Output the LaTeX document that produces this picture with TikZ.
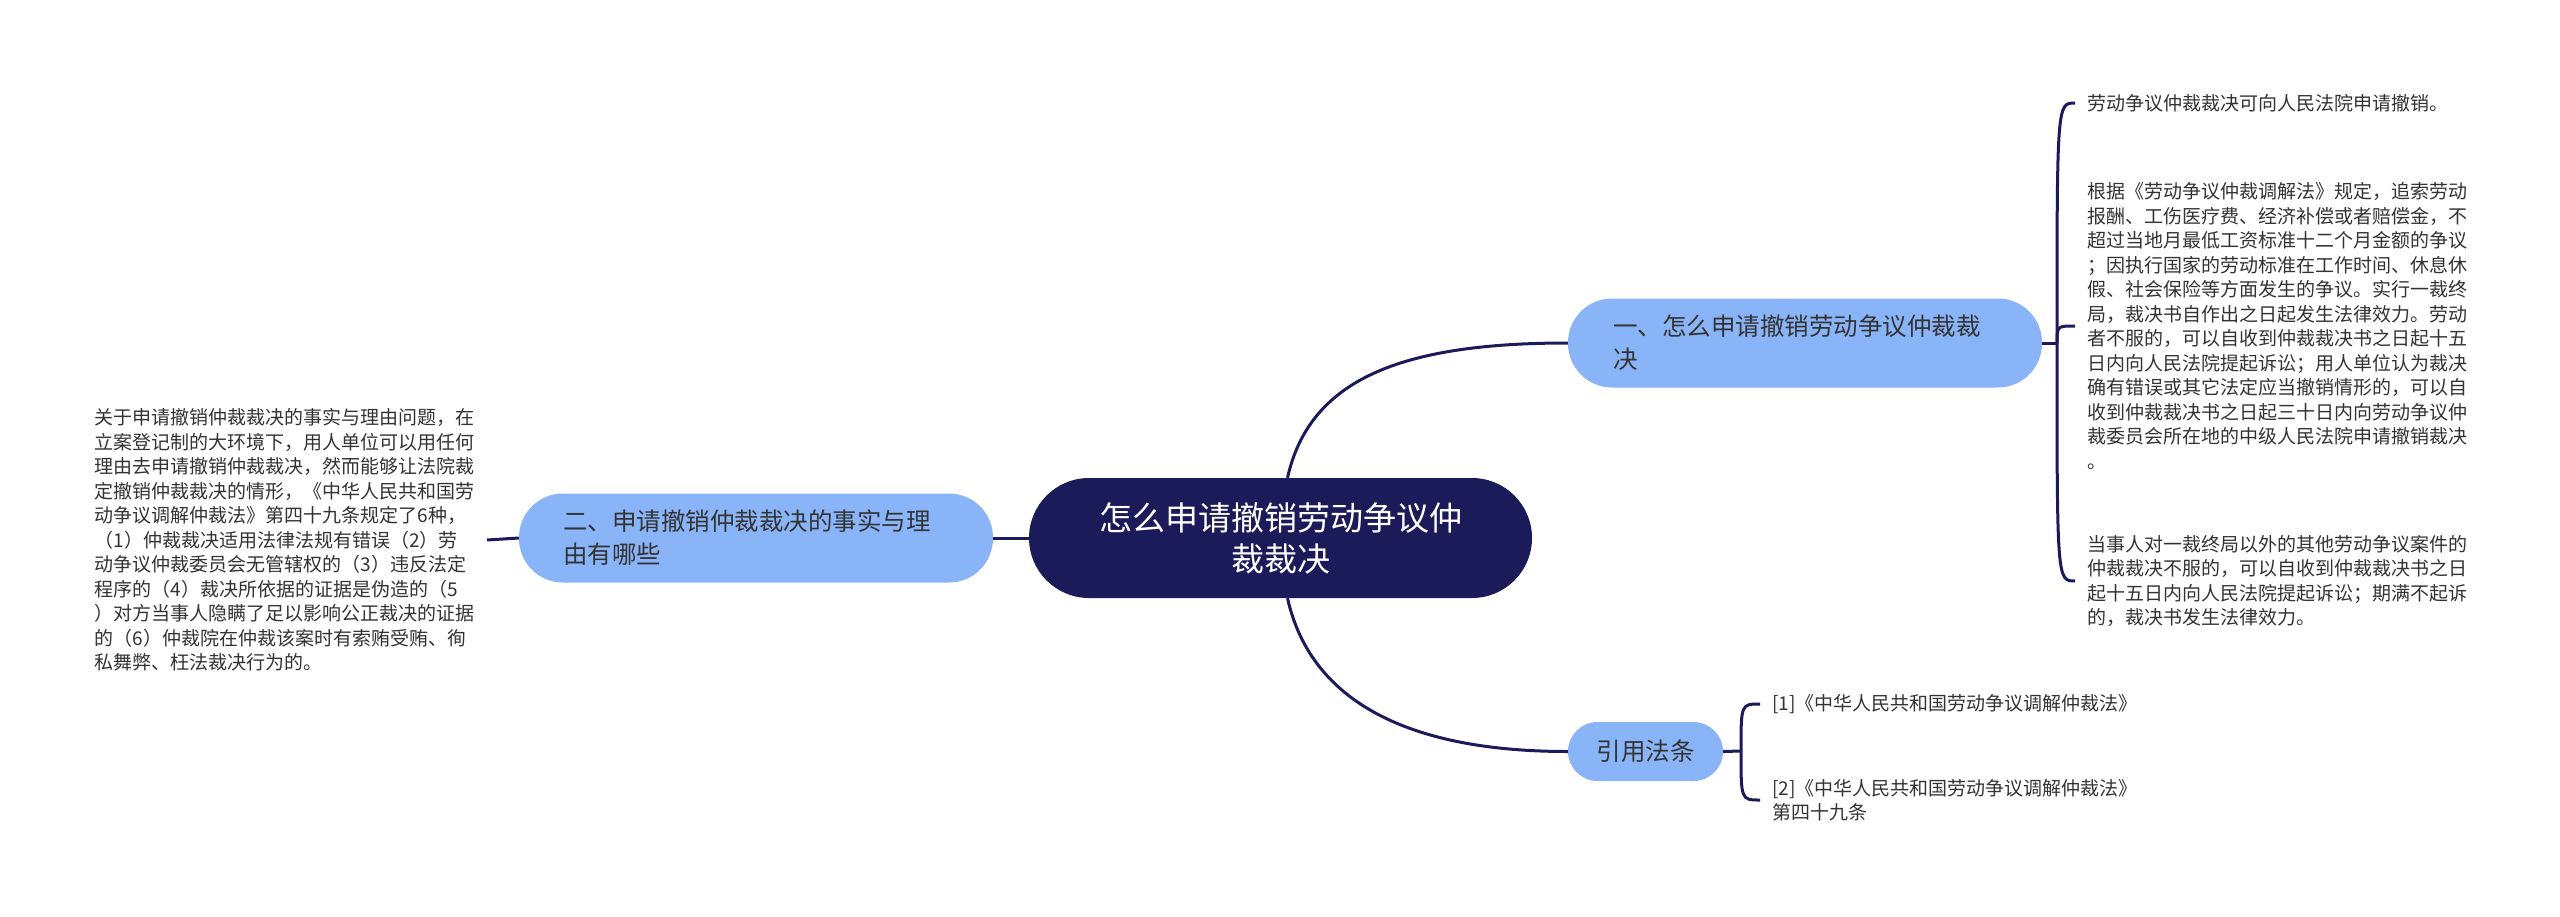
\documentclass[tikz,border=0pt]{standalone}
\usepackage{fontspec}
\setmainfont{Noto Sans CJK SC}
\definecolor{navy}{HTML}{1C1B5A}
\definecolor{blueb}{HTML}{8AB4F8}
\definecolor{txt}{HTML}{333333}
\tikzset{
  conn/.style={draw=navy, line width=3pt},
  rootbox/.style={fill=navy, text=white, rounded corners=60pt, minimum width=503pt, minimum height=120pt, align=center, font=\fontsize{33}{41}\selectfont, inner sep=0pt},
  topic/.style={fill=blueb, text=txt, rounded corners=44pt, minimum height=89pt, font=\fontsize{24.5}{33}\selectfont, inner ysep=0pt},
  leaf/.style={text=txt, align=left, font=\fontsize{19}{24.5}\selectfont, inner xsep=12pt, inner ysep=0pt},
}
\begin{document}
\begin{tikzpicture}[x=1pt, y=-1pt]
\useasboundingbox[fill=white] (0,0) rectangle (2560,916);

\node[rootbox] (root) at (1280.5,538) {怎么申请撤销劳动争议仲\\裁裁决};

\node[topic, minimum width=474pt, text width=384pt, align=left] (n1) at (1805,343) {一、怎么申请撤销劳动争议仲裁裁\\决};
\node[topic, minimum width=474pt, text width=386pt, align=left] (n2) at (756,538) {二、申请撤销仲裁裁决的事实与理\\由有哪些};
\node[topic, minimum width=155pt, minimum height=59pt, rounded corners=29.5pt, inner xsep=0pt] (n3) at (1645.5,751.5) {引用法条};

\node[leaf, anchor=east] (lt) at (487,540) {关于申请撤销仲裁裁决的事实与理由问题，在\\立案登记制的大环境下，用人单位可以用任何\\理由去申请撤销仲裁裁决，然而能够让法院裁\\定撤销仲裁裁决的情形，《中华人民共和国劳\\动争议调解仲裁法》第四十九条规定了6种，\\（1）仲裁裁决适用法律法规有错误（2）劳\\动争议仲裁委员会无管辖权的（3）违反法定\\程序的（4）裁决所依据的证据是伪造的（5\\）对方当事人隐瞒了足以影响公正裁决的证据\\的（6）仲裁院在仲裁该案时有索贿受贿、徇\\私舞弊、枉法裁决行为的。};

\node[leaf, anchor=west] (t1) at (2075,103) {劳动争议仲裁裁决可向人民法院申请撤销。};
\node[leaf, anchor=west] (t2) at (2075,326) {根据《劳动争议仲裁调解法》规定，追索劳动\\报酬、工伤医疗费、经济补偿或者赔偿金，不\\超过当地月最低工资标准十二个月金额的争议\\；因执行国家的劳动标准在工作时间、休息休\\假、社会保险等方面发生的争议。实行一裁终\\局，裁决书自作出之日起发生法律效力。劳动\\者不服的，可以自收到仲裁裁决书之日起十五\\日内向人民法院提起诉讼；用人单位认为裁决\\确有错误或其它法定应当撤销情形的，可以自\\收到仲裁裁决书之日起三十日内向劳动争议仲\\裁委员会所在地的中级人民法院申请撤销裁决\\。};
\node[leaf, anchor=west] (t3) at (2075,581) {当事人对一裁终局以外的其他劳动争议案件的\\仲裁裁决不服的，可以自收到仲裁裁决书之日\\起十五日内向人民法院提起诉讼；期满不起诉\\的，裁决书发生法律效力。};

\node[leaf, anchor=west] (c1) at (1760,704) {[1]《中华人民共和国劳动争议调解仲裁法》};
\node[leaf, anchor=west] (c2) at (1760,800) {[2]《中华人民共和国劳动争议调解仲裁法》\\第四十九条};

\coordinate (j1) at (2057,343);
\coordinate (j3) at (1741,751);

\draw[conn] ([xshift=7pt]root.north) .. controls +(22,-98) and +(-168,0) .. (n1.west);
\draw[conn] ([xshift=7pt]root.south) .. controls +(22,98) and +(-168,0) .. (n3.west);
\draw[conn] (root.west) -- (n2.east);
\draw[conn] (n2.west) -- (lt.east);

\draw[conn] (n1.east) -- (j1);
\draw[conn] (j1) .. controls (j1 |- t1.west) .. (t1.west);
\draw[conn] (j1) .. controls (j1 |- t2.west) .. (t2.west);
\draw[conn] (j1) .. controls (j1 |- t3.west) .. (t3.west);

\draw[conn] (n3.east) -- (j3);
\draw[conn] (j3) .. controls (j3 |- c1.west) .. (c1.west);
\draw[conn] (j3) .. controls (j3 |- c2.west) .. (c2.west);
\end{tikzpicture}
\end{document}
